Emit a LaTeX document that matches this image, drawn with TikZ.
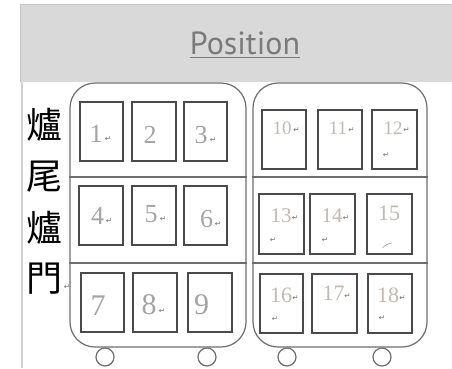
\documentclass[tikz,border=0pt]{standalone}
\usepackage{fontspec}
\setmainfont{Liberation Serif}
\newfontfamily\headfont{PT Sans}
\newfontfamily\cjkfont{Noto Sans CJK TC}
\newfontfamily\markfont{DejaVu Sans}
\usetikzlibrary{calc}
\definecolor{hdrgray}{HTML}{D9D9D9}
\definecolor{hdrline}{HTML}{C6C6C6}
\definecolor{postext}{HTML}{7A7A7A}
\definecolor{cabline}{HTML}{6E6E6E}
\definecolor{boxline}{HTML}{4A4A4A}
\definecolor{numL}{HTML}{A4A4A4}
\definecolor{numR}{HTML}{C2BAB2}
\definecolor{markc}{HTML}{707070}
\tikzset{
  cab/.style={draw=cabline, line width=1.2pt, rounded corners=25pt, minimum width=#1, minimum height=264pt, inner sep=0},
  slot/.style={draw=boxline, line width=1.2pt, minimum width=44pt, minimum height=59pt, inner sep=0},
  wheel/.style={draw=cabline, fill=white, line width=1.2pt, circle, minimum size=18pt, inner sep=0},
  numl/.style={anchor=base, inner sep=0, text=numL, font=\fontsize{26}{26}\selectfont},
  numlb/.style={anchor=base, inner sep=0, text=numL, font=\fontsize{30}{30}\selectfont},
  numr/.style={anchor=base, inner sep=0, text=numR, font=\fontsize{#1}{#1}\selectfont},
  pmark/.style={inner sep=0, text=markc, font=\markfont\fontsize{7.5}{7.5}\selectfont},
  cjk/.style={inner sep=0, text=black, font=\cjkfont\fontsize{36}{36}\selectfont},
  divline/.style={draw=cabline, line width=1.2pt}
}
\begin{document}
\begin{tikzpicture}[x=1pt,y=-1pt]
\useasboundingbox[fill=white] (0,0) rectangle (452,368);
% header
\fill[hdrgray] (20,4) rectangle (452,82);
\draw[hdrline, line width=0.8pt] (20.5,82) -- (20.5,4.5) -- (452,4.5);
\fill[hdrline!80] (21,82) rectangle (23,368);
\node[anchor=base, inner sep=0, text=postext, font=\headfont\fontsize{32}{32}\selectfont] (pos) at (245,54) {Position};
\draw[postext, line width=1.3pt] ($(pos.base west)+(0,3.5)$) -- ($(pos.base east)+(0,3.5)$);

% side text
\node[cjk] (c1) at (45,125) {爐};
\node[cjk] (c2) at (45,177) {尾};
\node[cjk] (c3) at (45,228) {爐};
\node[cjk] (c4) at (45,279) {門};
\node[pmark] (c4m) at (67,287) {↵};

% cabinets
\node[cab=176pt] (cabL) at (158,215) {};
\node[cab=174pt] (cabR) at (340,215) {};
\draw[divline] (cabL.west |- 0,177) -- (cabL.east |- 0,177);
\draw[divline] (cabL.west |- 0,263) -- (cabL.east |- 0,263);
\draw[divline] (cabR.west |- 0,177) -- (cabR.east |- 0,177);
\draw[divline] (cabR.west |- 0,263) -- (cabR.east |- 0,263);

% wheels
\node[wheel] (w1) at (105,357) {};
\node[wheel] (w2) at (207,357) {};
\node[wheel] (w3) at (287,357) {};
\node[wheel] (w4) at (382,357) {};

% left slots
\node[slot, minimum width=43pt] (s1) at (101.5,131.5) {};
\node[slot] (s2) at (154,131.5) {};
\node[slot, minimum width=43pt] (s3) at (205.5,131.5) {};
\node[slot] (s4) at (101,215.5) {};
\node[slot] (s5) at (154,215.5) {};
\node[slot, minimum width=43pt] (s6) at (205.5,215.5) {};
\node[slot, minimum width=43pt] (s7) at (102.5,302.5) {};
\node[slot] (s8) at (155,302.5) {};
\node[slot] (s9) at (210,302.5) {};
% right slots
\node[slot] (s10) at (284,139.5) {};
\node[slot] (s11) at (340,139.5) {};
\node[slot, minimum width=45pt] (s12) at (394.5,139.5) {};
\node[slot, minimum width=45pt, minimum height=60pt] (s13) at (281.5,224) {};
\node[slot, minimum width=45pt, minimum height=60pt] (s14) at (332.5,224) {};
\node[slot, minimum width=45pt, minimum height=60pt] (s15) at (389.5,224) {};
\node[slot, minimum width=43pt] (s16) at (281.5,303.5) {};
\node[slot, minimum width=45pt] (s17) at (334.5,303.5) {};
\node[slot] (s18) at (390,303.5) {};

% left numbers
\node[numl] (n1) at (96,142) {1};
\node[pmark] (m1) at (108,139) {↵};
\node[numl] (n2) at (150,143) {2};
\node[numl] (n3) at (201,143) {3};
\node[pmark] (m3) at (213,140) {↵};
\node[numl] (n4) at (97.5,224) {4};
\node[pmark] (m4) at (109,221) {↵};
\node[numl] (n5) at (151,222) {5};
\node[pmark] (m5) at (163,219) {↵};
\node[numl] (n6) at (206.5,227) {6};
\node[pmark] (m6) at (218,224) {↵};
\node[numlb] (n7) at (98,315) {7};
\node[numlb] (n8) at (149,314) {8};
\node[pmark] (m8) at (162,311) {↵};
\node[numlb] (n9) at (201.5,314) {9};

% right numbers
\node[numr=19] (n10) at (282,134) {10};
\node[pmark] (m10) at (296.5,130) {↵};
\node[numr=19] (n11) at (338,134) {11};
\node[pmark] (m11) at (351.5,130) {↵};
\node[numr=19] (n12) at (393,134) {12};
\node[pmark] (m12) at (406.5,130) {↵};
\node[pmark] (m12b) at (386,155) {↵};
\node[numr=21] (n13) at (281,222) {13};
\node[pmark] (m13) at (295,218) {↵};
\node[pmark] (m13b) at (273,240) {↵};
\node[numr=21] (n14) at (332,222) {14};
\node[pmark] (m14) at (346,218) {↵};
\node[pmark] (m14b) at (325,240) {↵};
\node[numr=22] (n15) at (389,220) {15};
\draw[markc!70, line width=0.6pt] (382.5,248) .. controls (385,245) and (388,243.5) .. (391.5,243);
\node[numr=22] (n16) at (281,302) {16};
\node[pmark] (m16) at (295.5,298) {↵};
\node[pmark] (m16b) at (275,319) {↵};
\node[numr=22] (n17) at (333.5,300) {17};
\node[pmark] (m17) at (347.5,296) {↵};
\node[numr=22] (n18) at (388,302) {18};
\node[pmark] (m18) at (402.5,298) {↵};
\node[pmark] (m18b) at (382,318) {↵};
\end{tikzpicture}
\end{document}
